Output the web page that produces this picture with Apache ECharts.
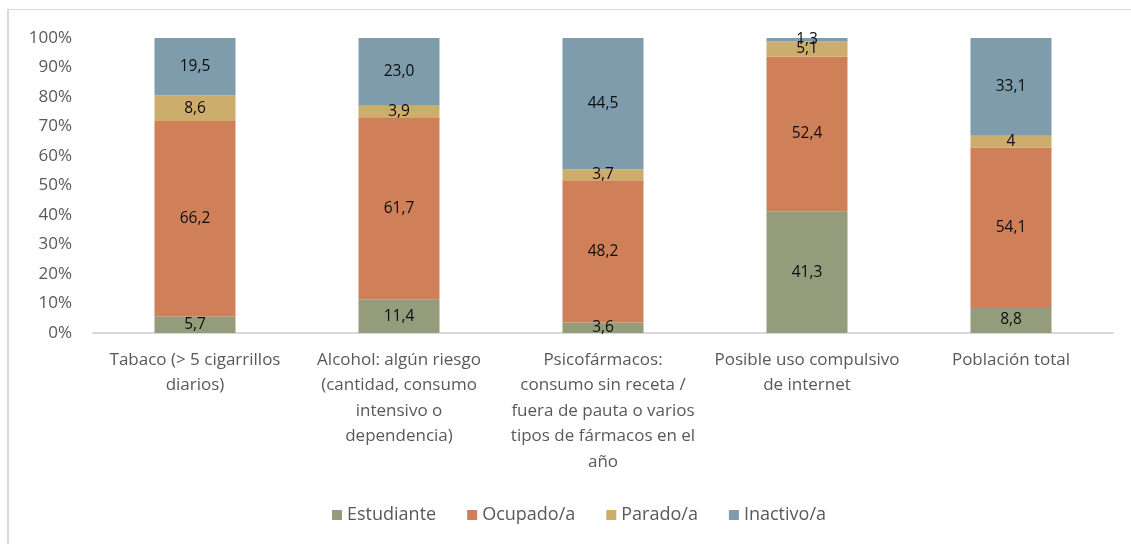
<!DOCTYPE html>
<html>
<head>
<meta charset="utf-8">
<script src="https://cdn.jsdelivr.net/npm/echarts@6/dist/echarts.min.js"></script>
<style>
  html, body { margin: 0; padding: 0; background: #fff; }
  #chart { width: 1131px; height: 544px; }
</style>
</head>
<body>
<div id="chart"></div>
<script>
// categorías (con los saltos de línea del original)
var categorias = [
  'Tabaco (> 5 cigarrillos\ndiarios)',
  'Alcohol: algún riesgo\n(cantidad, consumo\nintensivo o\ndependencia)',
  'Psicofármacos:\nconsumo sin receta /\nfuera de pauta o varios\ntipos de fármacos en el\naño',
  'Posible uso compulsivo\nde internet',
  'Población total'
];
var estudiante = [5.7, 11.4, 3.6, 41.3, 8.8];
var ocupado = [66.2, 61.7, 48.2, 52.4, 54.1];
var parado = [8.6, 3.9, 3.7, 5.1, 4];
var inactivo = [19.5, 23.0, 44.5, 1.3, 33.1];
var yTicks = [0, 10, 20, 30, 40, 50, 60, 70, 80, 90, 100];

var fuente = 'Open Sans';

function serie(nombre, datos, color, siempreDecimal) {
  return {
    name: nombre,
    type: 'bar',
    stack: 'total',
    barWidth: 81,
    data: datos,
    itemStyle: { color: color },
    label: {
      show: true,
      position: 'inside',
      color: '#0d0d0d',
      fontFamily: fuente,
      fontSize: 15.5,
      formatter: function (p) {
        var v = p.value
        if (Number.isInteger(v) && !siempreDecimal) return String(v)
        return v.toFixed(1).replace('.', ',')
      }
    }
  }
}

var chart = echarts.init(document.getElementById('chart'));
chart.setOption({
  animation: false,
  backgroundColor: '#fff',
  textStyle: { fontFamily: fuente },
  grid: { left: 93, right: 18, top: 38, height: 295, containLabel: false },
  graphic: [
    { type: 'line', shape: { x1: 7, y1: 9.5, x2: 1131, y2: 9.5 }, style: { stroke: '#d9d9d9', lineWidth: 1 } },
    { type: 'line', shape: { x1: 8, y1: 9, x2: 8, y2: 544 }, style: { stroke: '#d9d9d9', lineWidth: 2 } }
  ],
  legend: {
    bottom: 15,
    left: 327,
    itemWidth: 10,
    itemHeight: 10,
    itemGap: 31,
    icon: 'rect',
    textStyle: { color: '#595959', fontSize: 18, fontFamily: fuente },
    data: ['Estudiante', 'Ocupado/a', 'Parado/a', 'Inactivo/a']
  },
  xAxis: {
    type: 'category',
    data: categorias,
    axisLine: { lineStyle: { color: '#d9d9d9', width: 2 } },
    axisTick: { show: false },
    axisLabel: {
      color: '#595959',
      fontSize: 17,
      fontFamily: fuente,
      lineHeight: 25.5,
      margin: 14,
      interval: 0
    }
  },
  yAxis: {
    type: 'value',
    min: yTicks[0],
    max: yTicks[yTicks.length - 1],
    interval: 10,
    splitLine: { show: false },
    axisLine: { show: false },
    axisTick: { show: false },
    axisLabel: {
      color: '#595959',
      fontSize: 17,
      fontFamily: fuente,
      margin: 21,
      formatter: '{value}%'
    }
  },
  series: [
    serie('Estudiante', estudiante, '#949c7b', false),
    serie('Ocupado/a', ocupado, '#d08058', false),
    serie('Parado/a', parado, '#ccad6b', false),
    serie('Inactivo/a', inactivo, '#7f9cad', true)
  ]
});
</script>
</body>
</html>
